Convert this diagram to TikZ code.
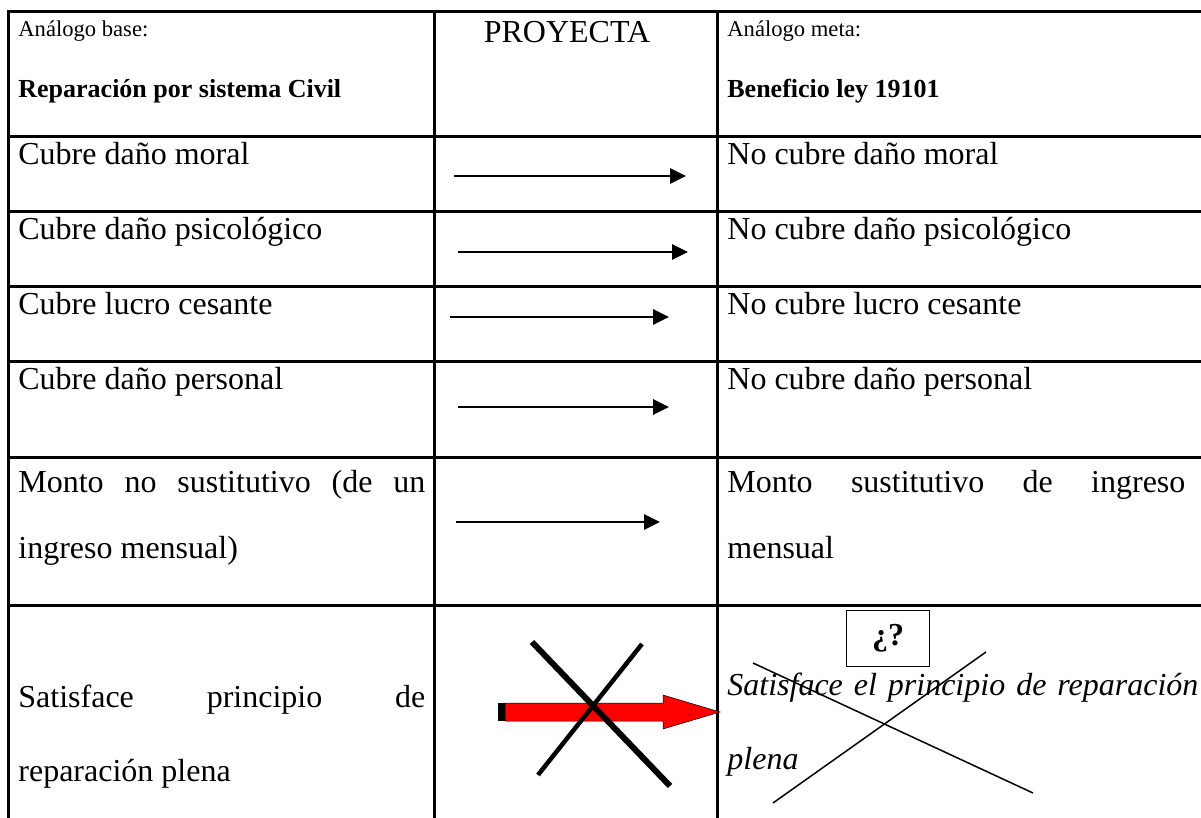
\documentclass[tikz,border=0pt]{standalone}
\usepackage{fontspec}
\setmainfont{Liberation Serif}
\usetikzlibrary{arrows.meta}
\begin{document}
\begin{tikzpicture}[x=0.5pt,y=-0.5pt,
	celda/.style={anchor=base west,inner sep=0pt,font=\fontsize{16}{19}\selectfont},
	chica/.style={anchor=base west,inner sep=0pt,font=\fontsize{11.3}{13}\selectfont},
	negra/.style={anchor=base west,inner sep=0pt,font=\fontsize{13}{16}\selectfont\bfseries},
	flecha/.style={line width=1.4pt,-{Triangle[length=8pt,width=7.5pt]}},
	raya/.style={line width=1.5pt}]
	\useasboundingbox (0,0) rectangle (1201,818);
	% tabla
	\draw[raya] (1201,12) -- (8,12) -- (8,818);
	\foreach \y in {137,212,287,362,458,605} \draw[raya] (8,\y) -- (1201,\y);
	\foreach \x in {434,717} \draw[raya] (\x,12) -- (\x,818);
	% encabezado
	\node[chica] (base) at (18,37) {Análogo base:};
	\node[negra] (baseT) at (18,98) {Reparación por sistema Civil};
	\node[celda,anchor=base] (proy) at (567,43) {PROYECTA};
	\node[chica] (meta) at (727,37) {Análogo meta:};
	\node[negra] (metaT) at (727,98) {Beneficio ley 19101};
	% filas
	\foreach \y/\a/\b in {165/Cubre daño moral/No cubre daño moral,
			240/Cubre daño psicológico/No cubre daño psicológico,
			315/Cubre lucro cesante/No cubre lucro cesante,
			390/Cubre daño personal/No cubre daño personal}{
		\node[celda] (izq\y) at (18,\y) {\a};
		\node[celda] (der\y) at (727,\y) {\b};
	}
	\node[celda] (monto) at (18,493) {\makebox[203.5pt][s]{Monto no sustitutivo (de un}};
	\node[celda] (montoB) at (18,559) {ingreso mensual)};
	\node[celda] (montoR) at (727,493) {\makebox[229pt][s]{Monto sustitutivo de ingreso}};
	\node[celda] (montoRB) at (727,559) {mensual};
	\node[celda] (sat) at (18,707) {\makebox[203.5pt][s]{Satisface principio de}};
	\node[celda] (satB) at (18,781) {reparación plena};
	\node[celda,font=\fontsize{16}{19}\selectfont\itshape] (satR) at (727,695) {\makebox[235.5pt][s]{Satisface el principio de reparación}};
	\node[celda,font=\fontsize{16}{19}\selectfont\itshape] (satRB) at (727,769) {plena};
	% flechas
	\coordinate (p1) at (454,176); \coordinate (q1) at (686,176);
	\coordinate (p2) at (458,252); \coordinate (q2) at (688,252);
	\coordinate (p3) at (450,317); \coordinate (q3) at (669,317);
	\coordinate (p4) at (458,407); \coordinate (q4) at (669,407);
	\coordinate (p5) at (456,522); \coordinate (q5) at (660,522);
	\draw[flecha] (p1) -- (q1);
	\draw[flecha] (p2) -- (q2);
	\draw[flecha] (p3) -- (q3);
	\draw[flecha] (p4) -- (q4);
	\draw[flecha] (p5) -- (q5);
	% flecha roja tachada
	\fill (498,703) rectangle (505,721);
	\draw[fill=red,line width=0.25pt] (505,703) -- (663,703) -- (663,695) -- (720,712) -- (663,729) -- (663,721) -- (505,721) -- cycle;
	\draw[line width=3pt] (532,642) -- (670,786);
	\draw[line width=2.25pt] (642,644) -- (538,775);
	% pregunta
	\node[draw,line width=0.5pt,minimum width=41.5pt,minimum height=28pt,font=\fontsize{16}{19}\selectfont\bfseries] (duda) at (888,638) {¿?};
	\draw[line width=0.75pt] (753,663) -- (1033,793);
	\draw[line width=0.75pt] (986,652) -- (773,803);
\end{tikzpicture}
\end{document}
